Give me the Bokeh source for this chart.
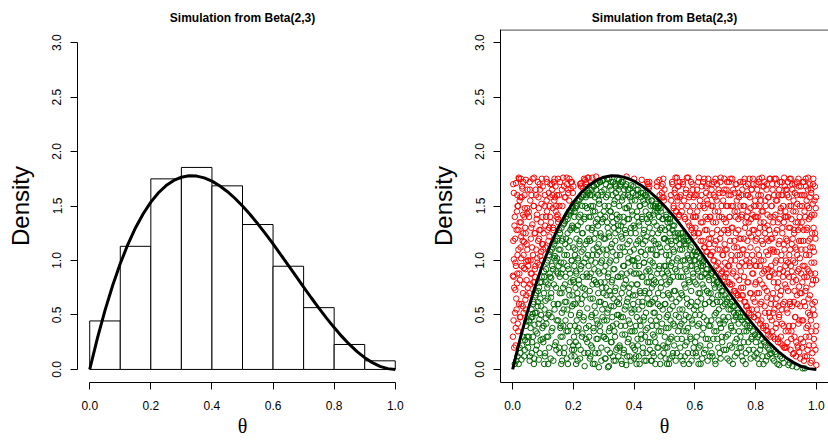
from bokeh.plotting import figure
from bokeh.layouts import row
from bokeh.models import Range1d, FixedTicker, PrintfTickFormatter, Span
from bokeh.embed import file_html
from bokeh.resources import INLINE

TITLE = "Simulation from Beta(2,3)"
X_LABEL = "θ"
Y_LABEL = "Density"
x_ticks = [0.0, 0.2, 0.4, 0.6, 0.8, 1.0]
y_ticks = [0.0, 0.5, 1.0, 1.5, 2.0, 2.5, 3.0]

# histogram (left panel)
bin_left = [0.0, 0.1, 0.2, 0.3, 0.4, 0.5, 0.6, 0.7, 0.8, 0.9]
bin_right = [0.1, 0.2, 0.3, 0.4, 0.5, 0.6, 0.7, 0.8, 0.9, 1.0]
bin_density = [0.445, 1.13, 1.749, 1.854, 1.685, 1.33, 0.947, 0.567, 0.229, 0.079]

# Beta(2,3) density curve, read at steps of 0.025
curve_x = [0.0, 0.025, 0.05, 0.075, 0.1, 0.125, 0.15, 0.175, 0.2, 0.225, 0.25,
           0.275, 0.3, 0.325, 0.35, 0.375, 0.4, 0.425, 0.45, 0.475, 0.5,
           0.525, 0.55, 0.575, 0.6, 0.625, 0.65, 0.675, 0.7, 0.725, 0.75,
           0.775, 0.8, 0.825, 0.85, 0.875, 0.9, 0.925, 0.95, 0.975, 1.0]
curve_y = [0.0, 0.2852, 0.5415, 0.7701, 0.972, 1.1484, 1.3005, 1.4293, 1.536, 1.6217, 1.6875,
           1.7346, 1.764, 1.7769, 1.7745, 1.7578, 1.728, 1.6862, 1.6335, 1.5711, 1.5,
           1.4214, 1.3365, 1.2463, 1.152, 1.0547, 0.9555, 0.8556, 0.756, 0.6579, 0.5625,
           0.4708, 0.384, 0.3032, 0.2295, 0.1641, 0.108, 0.0624, 0.0285, 0.0073, 0.0]

# accepted draws (green), x in thousandths, y in hundredths -- first batch
green_x_milli = [
    12, 25, 31, 38, 44, 47, 20, 41,
    53, 57, 61, 64, 68, 70, 72, 75, 77, 79, 81, 84, 86, 88, 90, 92, 94, 96, 98, 55, 66, 83,
    102, 104, 106, 108, 110, 112, 114, 116, 118, 120, 122, 124, 126, 128, 130, 132, 134, 136, 138, 140, 142, 144, 146, 148, 103, 109, 117, 127, 139, 147,
    151, 152, 153, 155, 156, 158, 159, 160, 161, 163, 164, 165, 167, 168, 169, 170, 172, 173, 174, 176, 177, 178, 180, 181, 182, 184, 185, 186, 188, 189, 190, 192, 193, 194, 195, 196, 197, 198, 199, 157,
    201, 202, 203, 204, 205, 206, 207, 208, 209, 210, 211, 212, 213, 214, 215, 216, 217, 218, 219, 220, 221, 223, 224, 226, 227, 228, 229, 230, 231, 232, 233, 234, 236, 237, 238, 239, 240, 241, 243, 244, 245, 246, 247, 248, 249,
    251, 252, 253, 254, 255, 256, 257, 258, 259, 260, 261, 262, 263, 264, 265, 266, 267, 268, 269, 270, 271, 272, 273, 274, 276, 277, 278, 279, 280, 281, 282, 283, 284, 285, 286, 287, 288, 289, 290, 291, 292, 293, 294, 295, 296, 297, 298, 299, 300,
    301, 302, 303, 304, 305, 306, 307, 308, 309, 310, 311, 312, 313, 314, 315, 316, 317, 318, 319, 320, 321, 322, 323, 324, 325, 326, 327, 328, 329, 330, 331, 332, 333, 334, 335, 336, 337, 338, 339, 340, 341, 342, 343, 344, 345, 346, 347, 348, 349, 350,
    351, 352, 353, 354, 355, 356, 357, 358, 359, 360, 361, 362, 363, 364, 365, 366, 367, 368, 369, 370, 371, 372, 373, 374, 376, 377, 378, 379, 380, 381, 382, 383, 384, 385, 386, 387, 388, 389, 390, 391, 392, 393, 394, 395, 396, 397, 398, 399, 400,
    401, 402, 403, 404, 405, 406, 407, 408, 409, 410, 411, 412, 413, 414, 415, 416, 417, 418, 419, 420, 421, 422, 423, 424, 426, 427, 428, 429, 430, 431, 432, 433, 434, 435, 436, 437, 438, 439, 440, 441, 442, 444, 445, 446, 447, 448, 449,
    451, 452, 453, 454, 455, 456, 457, 458, 459, 460, 461, 462, 463, 464, 465, 466, 467, 468, 469, 470, 471, 472, 473, 474, 476, 477, 478, 479, 480, 481, 482, 484, 485, 486, 487, 488, 489, 490, 492, 493, 495, 496, 498, 499,
    501, 502, 503, 504, 505, 506, 507, 508, 509, 510, 511, 512, 513, 514, 515, 516, 517, 518, 519, 520, 522, 523, 524, 526, 527, 528, 529, 531, 532, 533, 535, 536, 537, 539, 540, 542, 544, 545, 547, 549,
    551, 552, 553, 554, 555, 557, 558, 559, 560, 562, 563, 564, 565, 567, 568, 569, 571, 572, 573, 575, 576, 577, 579, 580, 582, 583, 585, 586, 588, 589, 591, 592, 594, 596, 598,
    601, 602, 603, 605, 606, 608, 609, 611, 612, 614, 615, 617, 618, 620, 621, 623, 624, 626, 628, 629, 631, 633, 635, 637, 639, 641, 643, 645, 647, 649,
    651, 653, 655, 657, 659, 661, 663, 665, 667, 669, 671, 673, 675, 677, 679, 681, 683, 685, 687, 689, 691, 694, 696, 699,
    702, 705, 707, 710, 713, 715, 718, 720, 723, 725, 728, 730, 733, 736, 739, 742, 745, 748,
    752, 755, 758, 762, 765, 768, 772, 776, 780, 784, 788, 793, 798,
    803, 808, 812, 818, 823, 828, 834, 840, 846,
    856, 864, 872, 881, 892,
    908, 921,
    962,
]
green_y_centi = [
    8, 15, 22, 12, 40, 30, 5, 27,
    30, 12, 48, 25, 60, 5, 41, 68, 18, 52, 33, 72, 9, 46, 80, 27, 58, 85, 38, 44, 51, 62,
    40, 85, 12, 63, 92, 30, 75, 100, 50, 20, 88, 108, 66, 35, 95, 112, 8, 78, 55, 118, 25, 90, 102, 60, 70, 47, 5, 84, 104, 120,
    60, 110, 20, 85, 125, 40, 98, 5, 70, 118, 30, 92, 133, 55, 15, 105, 78, 136, 45, 120, 62, 10, 95, 138, 35, 112, 73, 142, 25, 88, 128, 50, 145, 100, 18, 132, 68, 148, 82, 38,
    80, 30, 140, 12, 105, 60, 148, 25, 90, 120, 45, 150, 70, 8, 132, 100, 38, 155, 78, 115, 52, 142, 18, 95, 158, 65, 125, 33, 85, 160, 110, 48, 138, 3, 74, 150, 102, 28, 160, 88, 118, 56, 164, 15, 130,
    40, 120, 85, 10, 160, 65, 140, 22, 100, 165, 50, 130, 78, 5, 150, 110, 35, 168, 92, 58, 145, 15, 125, 80, 170, 45, 105, 138, 28, 160, 70, 115, 2, 152, 88, 40, 172, 125, 62, 98, 20, 163, 135, 75, 48, 110, 174, 30, 145,
    90, 30, 150, 60, 120, 10, 170, 75, 105, 45, 135, 18, 160, 85, 55, 125, 3, 175, 98, 38, 145, 68, 112, 25, 165, 80, 140, 48, 108, 12, 172, 92, 58, 130, 35, 155, 72, 118, 8, 168, 100, 42, 138, 62, 20, 158, 85, 128, 50, 174,
    65, 140, 20, 105, 170, 48, 122, 8, 88, 155, 32, 112, 172, 75, 135, 15, 95, 160, 55, 128, 40, 168, 82, 4, 148, 62, 115, 25, 165, 98, 45, 138, 70, 12, 158, 108, 35, 125, 169, 78, 52, 145, 22, 100, 162, 60, 132, 88, 10,
    55, 130, 18, 95, 160, 40, 115, 5, 78, 145, 28, 102, 165, 62, 135, 12, 88, 150, 45, 120, 70, 158, 32, 108, 140, 58, 85, 20, 162, 125, 48, 98, 8, 152, 72, 118, 36, 160, 90, 15, 138, 65, 110, 25, 155, 80, 142,
    90, 25, 140, 60, 110, 8, 155, 75, 40, 125, 98, 15, 150, 52, 118, 82, 30, 145, 65, 5, 105, 152, 45, 132, 88, 20, 148, 70, 115, 35, 150, 95, 58, 128, 12, 145, 80, 108, 42, 138, 68, 22, 120, 95,
    60, 120, 20, 95, 140, 38, 78, 5, 112, 135, 50, 88, 25, 130, 68, 105, 10, 138, 82, 45, 118, 30, 98, 128, 58, 15, 110, 72, 132, 40, 92, 122, 8, 62, 100, 28, 125, 85, 48, 115,
    40, 95, 12, 120, 70, 28, 110, 55, 125, 85, 5, 118, 45, 100, 22, 75, 115, 35, 90, 60, 118, 15, 102, 48, 80, 110, 30, 95, 62, 8, 105, 42, 88, 20, 100,
    50, 100, 15, 78, 30, 108, 62, 90, 5, 42, 102, 70, 22, 95, 55, 85, 10, 98, 38, 75, 100, 60, 18, 88, 45, 92, 28, 70, 82, 12,
    40, 88, 15, 65, 90, 28, 78, 50, 8, 85, 35, 62, 80, 20, 55, 75, 42, 10, 68, 30, 72, 48, 18, 60,
    30, 65, 10, 48, 66, 22, 55, 38, 62, 5, 45, 58, 25, 50, 15, 52, 35, 48,
    20, 45, 8, 35, 48, 15, 40, 25, 38, 10, 30, 18, 32,
    15, 30, 5, 22, 12, 25, 8, 20, 14,
    10, 16, 5, 12, 6,
    4, 3,
    1,
]

# accepted draws (green) -- second batch
green_x_milli_b = [
    7, 16, 23, 29, 34, 40, 45, 49,
    51, 54, 56, 59, 62, 63, 65, 67, 69, 71, 74, 76, 78, 80, 82, 85, 87, 89, 91, 93, 95, 99,
    101, 103, 105, 107, 109, 111, 113, 115, 117, 119, 121, 123, 125, 127, 129, 131, 133, 135, 137, 139, 141, 143, 145, 147, 149, 104, 116, 128, 136, 144,
    150, 151, 153, 154, 155, 157, 158, 160, 161, 162, 163, 165, 166, 167, 168, 170, 171, 172, 173, 175, 176, 177, 179, 180, 181, 182, 184, 185, 187, 188, 189, 190, 191, 193, 194, 195, 196, 197, 199, 200,
    200, 201, 202, 203, 204, 205, 206, 207, 208, 209, 210, 211, 212, 213, 214, 215, 216, 217, 218, 219, 220, 221, 222, 223, 224, 226, 227, 228, 229, 230, 231, 233, 234, 235, 236, 237, 238, 240, 241, 242, 244, 245, 246, 248, 250,
    250, 251, 252, 253, 254, 255, 256, 257, 258, 259, 260, 261, 262, 263, 264, 265, 266, 267, 268, 269, 270, 271, 272, 273, 274, 275, 276, 277, 278, 279, 280, 281, 282, 283, 284, 285, 286, 287, 288, 289, 290, 291, 292, 293, 294, 295, 296, 297, 299,
    300, 301, 302, 303, 304, 305, 306, 307, 308, 309, 310, 311, 312, 313, 314, 315, 316, 317, 318, 319, 320, 321, 322, 323, 324, 325, 326, 327, 328, 329, 330, 331, 332, 333, 334, 335, 336, 337, 338, 339, 340, 341, 342, 343, 344, 345, 346, 347, 348, 349,
    350, 351, 352, 353, 354, 355, 356, 357, 358, 359, 360, 361, 362, 363, 364, 365, 366, 367, 368, 369, 370, 371, 372, 373, 374, 376, 377, 378, 379, 380, 381, 382, 383, 384, 385, 386, 387, 388, 389, 390, 391, 392, 393, 394, 395, 396, 397, 398, 399,
    401, 402, 403, 404, 405, 406, 407, 408, 409, 410, 411, 412, 413, 414, 415, 416, 417, 418, 419, 420, 421, 422, 423, 424, 425, 426, 427, 428, 429, 430, 431, 432, 433, 434, 435, 436, 437, 438, 439, 440, 441, 442, 443, 444, 446, 447, 449,
    450, 451, 452, 453, 454, 455, 456, 457, 458, 459, 460, 461, 462, 463, 464, 465, 466, 467, 468, 469, 470, 471, 472, 473, 474, 475, 477, 478, 479, 480, 481, 482, 483, 485, 486, 487, 488, 489, 491, 492, 494, 495, 497, 499,
    500, 501, 502, 503, 504, 505, 506, 507, 508, 509, 510, 511, 512, 513, 514, 515, 516, 517, 518, 519, 520, 521, 523, 524, 525, 527, 528, 529, 531, 532, 534, 535, 537, 538, 540, 541, 543, 545, 546, 549,
    550, 551, 552, 554, 555, 556, 558, 559, 561, 562, 563, 565, 566, 567, 569, 570, 572, 573, 574, 576, 577, 579, 580, 581, 583, 584, 586, 587, 588, 590, 591, 593, 595, 597, 599,
    600, 601, 603, 604, 606, 607, 609, 610, 612, 613, 615, 616, 618, 619, 621, 622, 624, 625, 627, 629, 630, 632, 634, 636, 638, 640, 642, 644, 646, 648,
    650, 652, 654, 656, 658, 660, 662, 664, 666, 668, 670, 672, 674, 676, 678, 680, 682, 684, 686, 688, 690, 692, 695, 698,
    700, 703, 706, 709, 711, 714, 717, 719, 722, 724, 727, 729, 732, 735, 738, 741, 744, 747,
    750, 754, 757, 761, 764, 767, 770, 774, 778, 782, 786, 791, 796,
    801, 806, 810, 815, 821, 826, 832, 838, 845,
    852, 861, 869, 878, 887,
    912, 935,
    955,
]
green_y_centi_b = [
    5, 12, 20, 9, 30, 18, 44, 25,
    20, 45, 8, 38, 55, 15, 48, 30, 62, 10, 52, 35, 70, 22, 58, 42, 75, 15, 65, 50, 80, 28,
    25, 90, 55, 15, 80, 42, 98, 65, 30, 105, 52, 85, 10, 70, 110, 38, 92, 60, 115, 22, 100, 75, 45, 118, 88, 5, 78, 48, 102, 18,
    45, 95, 128, 15, 70, 110, 30, 88, 130, 52, 8, 120, 75, 40, 98, 134, 20, 62, 115, 85, 140, 35, 105, 55, 125, 5, 92, 145, 68, 118, 40, 144, 80, 12, 130, 100, 58, 150, 22, 112,
    60, 130, 18, 95, 145, 40, 110, 75, 150, 5, 88, 128, 35, 155, 65, 102, 22, 140, 82, 50, 118, 156, 10, 92, 135, 60, 108, 30, 150, 75, 125, 45, 160, 98, 15, 140, 68, 115, 158, 38, 85, 148, 25, 105, 162,
    95, 140, 30, 165, 72, 118, 12, 88, 150, 48, 128, 160, 20, 105, 65, 145, 38, 168, 82, 120, 5, 158, 98, 52, 135, 165, 28, 112, 78, 170, 42, 132, 90, 15, 155, 62, 108, 172, 35, 142, 80, 122, 8, 160, 100, 55, 173, 138, 70,
    120, 45, 165, 80, 10, 140, 95, 28, 158, 68, 110, 175, 52, 130, 2, 88, 150, 35, 122, 72, 168, 15, 100, 145, 58, 172, 25, 115, 82, 160, 40, 135, 65, 8, 152, 92, 170, 30, 125, 75, 162, 18, 105, 142, 50, 175, 85, 132, 12, 165,
    60, 150, 22, 112, 168, 85, 40, 132, 172, 70, 5, 120, 158, 48, 95, 140, 18, 165, 78, 108, 32, 148, 58, 125, 170, 88, 12, 138, 65, 160, 102, 28, 150, 75, 118, 42, 166, 90, 8, 130, 55, 155, 100, 35, 142, 68, 168, 20, 110,
    100, 35, 155, 68, 125, 12, 88, 165, 48, 140, 78, 22, 118, 160, 55, 95, 132, 5, 72, 150, 40, 108, 162, 28, 85, 138, 62, 15, 115, 155, 45, 98, 128, 70, 160, 30, 105, 145, 52, 8, 122, 80, 158, 38, 135, 92, 60,
    70, 130, 18, 100, 150, 45, 85, 120, 8, 155, 62, 110, 32, 142, 78, 12, 135, 95, 52, 150, 25, 115, 80, 148, 40, 105, 145, 60, 125, 20, 92, 140, 48, 112, 5, 148, 75, 35, 130, 88, 55, 138, 15, 120,
    85, 30, 128, 60, 10, 105, 142, 48, 90, 20, 118, 70, 138, 38, 100, 5, 80, 125, 55, 135, 28, 95, 65, 115, 12, 132, 85, 42, 108, 22, 125, 72, 50, 118, 90, 15, 102, 35, 120, 65,
    55, 110, 20, 85, 125, 42, 68, 8, 100, 122, 35, 78, 115, 12, 92, 50, 120, 25, 65, 105, 38, 82, 118, 5, 58, 100, 28, 112, 72, 45, 95, 15, 85, 55, 108,
    80, 25, 105, 58, 12, 92, 40, 108, 70, 20, 98, 50, 85, 5, 65, 100, 32, 78, 95, 48, 15, 88, 60, 28, 92, 72, 8, 85, 40, 62,
    22, 70, 45, 88, 12, 60, 82, 35, 75, 5, 52, 80, 28, 68, 45, 78, 15, 62, 38, 72, 25, 58, 42, 68,
    45, 18, 62, 32, 55, 8, 60, 40, 20, 58, 35, 52, 12, 48, 28, 55, 42, 20,
    30, 12, 48, 25, 42, 5, 35, 45, 18, 40, 28, 35, 12,
    25, 10, 32, 18, 28, 5, 22, 12, 18,
    15, 8, 14, 4, 10,
    6, 2,
    1,
]

# rejected draws (red), x in thousandths, y in hundredths -- first batch
red_x_milli = [
    3, 8, 15, 22, 27, 35, 42, 48, 5, 11, 18, 29, 33, 39, 46, 2, 9, 16, 24, 30, 37, 43, 49, 6, 13, 21, 28, 34, 40, 45, 1, 10, 19, 26, 32, 36, 47, 4, 14, 23, 38, 50,
    51, 54, 56, 58, 60, 62, 63, 65, 67, 69, 71, 73, 74, 76, 78, 80, 82, 85, 87, 89, 91, 93, 95, 97, 99, 59, 72, 88,
    101, 105, 111, 115, 119, 123, 129, 133, 137, 141, 145, 149, 107, 113, 121, 131, 135, 143, 125, 150,
    154, 162, 166, 171, 179, 183, 187, 191, 195, 200,
    222, 235, 242, 225, 250,
    275,
    375,
    425, 443, 450,
    475, 483, 491, 494, 497, 500,
    521, 525, 530, 534, 538, 541, 543, 546, 548, 550,
    556, 561, 566, 570, 574, 578, 581, 584, 587, 590, 593, 595, 597, 599, 600,
    604, 607, 610, 613, 616, 619, 622, 625, 627, 630, 632, 634, 636, 638, 640, 642, 644, 646, 648, 650,
    652, 654, 656, 658, 660, 662, 664, 666, 668, 670, 672, 674, 676, 678, 680, 682, 684, 686, 688, 690, 692, 693, 695, 697, 698, 700,
    701, 703, 704, 706, 708, 709, 711, 712, 714, 716, 717, 719, 721, 722, 724, 726, 727, 729, 731, 732, 734, 735, 737, 738, 740, 741, 743, 744, 746, 747, 749, 750,
    751, 753, 754, 756, 757, 759, 760, 761, 763, 764, 766, 767, 769, 770, 771, 773, 774, 775, 777, 778, 779, 781, 782, 783, 785, 786, 787, 789, 790, 791, 792, 794, 795, 796, 797, 799, 800,
    801, 802, 804, 805, 806, 807, 809, 810, 811, 813, 814, 815, 816, 817, 819, 820, 821, 822, 824, 825, 826, 827, 829, 830, 831, 832, 833, 835, 836, 837, 838, 839, 841, 842, 843, 844, 845, 847, 848, 849, 850,
    851, 852, 853, 854, 855, 857, 858, 859, 860, 861, 862, 863, 865, 866, 867, 868, 869, 870, 871, 873, 874, 876, 877, 878, 879, 880, 882, 883, 884, 885, 886, 887, 888, 889, 890, 891, 893, 894, 895, 896, 897, 898, 899, 900, 875,
    901, 902, 903, 904, 905, 906, 907, 909, 910, 911, 912, 913, 914, 915, 916, 917, 918, 919, 920, 922, 923, 924, 926, 927, 928, 929, 930, 931, 932, 933, 934, 935, 936, 937, 938, 939, 940, 941, 942, 943, 944, 945, 946, 947, 948, 949, 950, 925,
    951, 952, 953, 954, 955, 956, 957, 958, 959, 960, 961, 963, 964, 965, 966, 967, 968, 969, 970, 971, 972, 973, 974, 975, 976, 977, 978, 979, 980, 981, 982, 983, 984, 985, 986, 987, 988, 989, 990, 991, 992, 993, 994, 995, 996, 997, 998, 999, 1000,
]
red_y_centi = [
    45, 120, 160, 88, 135, 172, 64, 110, 20, 95, 150, 60, 118, 140, 82, 170, 73, 105, 48, 158, 93, 125, 165, 132, 55, 175, 102, 70, 148, 99, 86, 38, 128, 112, 166, 52, 143, 101, 79, 155, 117, 75,
    95, 140, 172, 78, 120, 160, 88, 133, 105, 150, 176, 92, 125, 165, 110, 142, 98, 158, 120, 170, 104, 135, 152, 115, 168, 100, 80, 128,
    110, 150, 175, 128, 162, 140, 170, 130, 155, 168, 140, 175, 132, 145, 122, 160, 172, 150, 158, 138,
    150, 165, 176, 158, 170, 162, 175, 166, 172, 168,
    170, 175, 172, 168, 176,
    177,
    177,
    174, 172, 168,
    168, 174, 162, 170, 158, 165,
    160, 172, 150, 165, 145, 176, 155, 168, 142, 158,
    150, 170, 140, 162, 176, 135, 158, 145, 172, 130, 165, 150, 125, 160, 140,
    140, 165, 125, 176, 150, 118, 160, 135, 172, 112, 148, 128, 168, 108, 155, 138, 175, 120, 160, 105,
    120, 150, 170, 108, 135, 160, 100, 145, 175, 118, 155, 128, 98, 165, 140, 110, 172, 125, 150, 90, 162, 105, 138, 175, 115, 85,
    110, 150, 88, 172, 128, 95, 160, 80, 140, 118, 175, 100, 150, 78, 130, 165, 90, 112, 145, 72, 170, 125, 85, 155, 105, 68, 138, 162, 95, 120, 65, 150,
    90, 140, 68, 165, 110, 75, 150, 120, 62, 175, 95, 135, 58, 160, 105, 80, 145, 170, 55, 125, 98, 158, 70, 112, 138, 50, 165, 88, 128, 175, 65, 150, 100, 48, 140, 78, 118,
    80, 140, 55, 165, 110, 45, 125, 172, 70, 150, 95, 42, 135, 160, 62, 118, 176, 88, 145, 40, 100, 168, 75, 130, 52, 155, 92, 36, 120, 170, 66, 142, 105, 32, 158, 85, 128, 48, 175, 110, 60,
    95, 150, 45, 120, 170, 70, 135, 30, 108, 160, 55, 88, 142, 38, 175, 100, 65, 128, 155, 28, 80, 115, 165, 50, 138, 92, 24, 148, 72, 105, 172, 42, 125, 160, 60, 90, 135, 20, 110, 168, 78, 145, 35, 100, 58,
    120, 55, 165, 88, 25, 140, 72, 158, 40, 105, 175, 60, 130, 18, 95, 150, 35, 115, 170, 80, 14, 145, 62, 125, 30, 162, 98, 48, 135, 12, 110, 172, 68, 152, 22, 90, 128, 42, 168, 76, 16, 140, 102, 58, 160, 28, 118, 85,
    70, 135, 20, 160, 95, 45, 118, 172, 8, 85, 145, 58, 110, 30, 168, 75, 128, 12, 150, 92, 40, 176, 65, 138, 22, 105, 158, 50, 120, 6, 88, 165, 35, 142, 78, 15, 112, 170, 55, 130, 28, 98, 155, 62, 125, 18, 148, 82, 40,
]

# rejected draws (red) -- second batch
red_x_milli_b = [
    1, 2, 4, 5, 7, 8, 9, 11, 12, 13, 15, 16, 17, 19, 20, 21, 23, 24, 25, 26, 28, 30, 31, 33, 34, 36, 37, 39, 41, 42, 44, 45, 46, 48, 50, 3, 10, 14, 18, 27, 35, 43,
    52, 53, 55, 57, 60, 61, 64, 66, 68, 70, 72, 75, 77, 79, 81, 83, 84, 86, 88, 90, 92, 94, 96, 98, 100, 58, 73, 97,
    102, 106, 110, 114, 118, 122, 126, 130, 134, 138, 142, 146, 150, 108, 112, 120, 124, 132, 140, 148,
    152, 156, 164, 169, 174, 178, 183, 186, 192, 198,
    225, 232, 239, 243, 247,
    262,
    400,
    445, 448, 450,
    476, 484, 490, 493, 496, 498,
    522, 526, 530, 533, 536, 539, 542, 544, 547, 550,
    553, 557, 560, 564, 568, 571, 575, 578, 582, 585, 589, 592, 594, 596, 598,
    602, 605, 608, 611, 614, 617, 620, 623, 626, 628, 631, 633, 635, 637, 639, 641, 643, 645, 647, 649,
    651, 653, 655, 657, 659, 661, 663, 665, 667, 669, 671, 673, 675, 677, 679, 681, 683, 685, 687, 689, 691, 693, 694, 696, 697, 699,
    701, 702, 704, 705, 707, 708, 710, 712, 713, 715, 716, 718, 720, 721, 723, 725, 726, 728, 730, 731, 733, 734, 736, 737, 739, 740, 742, 743, 745, 746, 748, 749,
    751, 752, 753, 755, 756, 758, 759, 760, 762, 763, 765, 766, 768, 769, 771, 772, 773, 775, 776, 777, 779, 780, 781, 783, 784, 785, 787, 788, 789, 790, 792, 793, 794, 795, 797, 798, 799,
    800, 802, 803, 804, 805, 807, 808, 809, 811, 812, 813, 814, 816, 817, 818, 819, 820, 822, 823, 824, 825, 827, 828, 829, 830, 831, 833, 834, 835, 836, 837, 839, 840, 841, 842, 843, 844, 846, 847, 848, 849,
    850, 851, 853, 854, 855, 856, 857, 858, 859, 860, 862, 863, 864, 865, 866, 867, 868, 870, 871, 872, 873, 874, 875, 876, 877, 879, 880, 881, 882, 883, 884, 885, 886, 888, 889, 890, 891, 892, 893, 894, 895, 896, 897, 898, 899,
    900, 901, 902, 903, 904, 905, 906, 907, 908, 909, 910, 911, 913, 914, 916, 917, 918, 919, 920, 921, 922, 923, 924, 925, 926, 927, 928, 929, 930, 931, 932, 933, 934, 936, 937, 938, 939, 940, 941, 942, 943, 944, 945, 946, 947, 948, 949, 950,
    951, 952, 953, 954, 956, 957, 958, 959, 960, 961, 962, 963, 964, 965, 966, 967, 968, 969, 970, 971, 972, 973, 974, 975, 976, 977, 978, 979, 980, 981, 982, 983, 984, 985, 986, 987, 988, 989, 990, 991, 992, 993, 994, 995, 996, 997, 998, 999, 1000,
]
red_y_centi_b = [
    30, 118, 162, 75, 140, 52, 98, 171, 65, 128, 88, 150, 42, 110, 176, 60, 135, 82, 158, 48, 122, 95, 168, 58, 142, 105, 78, 160, 130, 92, 174, 68, 115, 148, 100, 85, 22, 145, 35, 175, 125, 55,
    100, 145, 70, 165, 88, 130, 112, 175, 80, 150, 125, 95, 160, 138, 102, 172, 118, 148, 96, 165, 128, 108, 175, 140, 115, 155, 85, 100,
    125, 160, 140, 172, 118, 150, 135, 165, 128, 175, 145, 160, 135, 112, 155, 130, 170, 148, 158, 142,
    160, 172, 150, 168, 158, 176, 165, 155, 172, 162,
    171, 166, 174, 170, 176,
    176,
    175,
    170, 166, 172,
    172, 160, 168, 158, 175, 155,
    155, 170, 148, 162, 176, 145, 158, 168, 140, 172,
    160, 145, 172, 155, 138, 165, 150, 176, 132, 160, 128, 170, 140, 158, 122,
    130, 160, 145, 172, 125, 155, 135, 168, 118, 150, 175, 112, 140, 162, 128, 108, 152, 170, 115, 140,
    140, 105, 165, 125, 150, 100, 172, 115, 158, 135, 95, 170, 110, 145, 92, 162, 120, 176, 88, 140, 105, 155, 85, 128, 165, 98,
    92, 135, 165, 110, 80, 150, 125, 172, 95, 140, 78, 160, 105, 130, 175, 88, 150, 72, 118, 162, 100, 140, 70, 170, 112, 145, 68, 128, 158, 82, 105, 172,
    120, 75, 160, 98, 142, 68, 172, 110, 85, 150, 130, 62, 168, 100, 140, 58, 118, 160, 80, 135, 52, 175, 95, 148, 70, 122, 165, 55, 105, 142, 88, 170, 48, 128, 62, 155, 95,
    150, 95, 170, 120, 70, 140, 50, 160, 105, 175, 82, 130, 60, 155, 100, 45, 145, 78, 168, 115, 38, 135, 90, 172, 58, 125, 150, 40, 108, 165, 72, 132, 35, 158, 92, 118, 52, 175, 85, 140, 30,
    120, 65, 150, 90, 35, 165, 110, 52, 140, 80, 175, 28, 125, 98, 60, 155, 42, 108, 170, 75, 135, 25, 160, 88, 48, 118, 172, 68, 145, 30, 100, 160, 55, 130, 22, 85, 150, 40, 115, 176, 62, 140, 20, 95, 165,
    140, 75, 20, 118, 160, 52, 98, 172, 35, 130, 85, 150, 62, 110, 175, 28, 138, 90, 58, 165, 120, 40, 100, 155, 15, 128, 72, 170, 48, 112, 145, 82, 25, 160, 105, 60, 135, 20, 175, 92, 118, 45, 150, 70, 10, 130, 168, 88,
    110, 45, 150, 80, 172, 25, 128, 62, 160, 95, 12, 140, 72, 175, 105, 38, 155, 85, 130, 18, 165, 52, 118, 90, 148, 30, 170, 68, 112, 140, 45, 162, 98, 8, 125, 60, 152, 82, 175, 22, 108, 142, 50, 168, 88, 120, 35, 158, 4,
]

assert len(green_x_milli) == len(green_y_centi), (len(green_x_milli), len(green_y_centi))
assert len(green_x_milli_b) == len(green_y_centi_b), (len(green_x_milli_b), len(green_y_centi_b))
assert len(red_x_milli) == len(red_y_centi), (len(red_x_milli), len(red_y_centi))
assert len(red_x_milli_b) == len(red_y_centi_b), (len(red_x_milli_b), len(red_y_centi_b))

green_x = [v / 1000 for v in green_x_milli + green_x_milli_b]
green_y = [v / 100 for v in green_y_centi + green_y_centi_b]
red_x = [v / 1000 for v in red_x_milli + red_x_milli_b]
red_y = [v / 100 for v in red_y_centi + red_y_centi_b]

FONT = "Liberation Sans"


def style(p, x_bounds=None, y_bounds=None):
    p.title.text = TITLE
    p.title.text_font = FONT
    p.title.text_font_size = "12px"
    p.title.text_font_style = "bold"
    p.title.align = "center"
    p.title.standoff = 10
    p.title.text_color = "black"
    p.xgrid.visible = False
    p.ygrid.visible = False
    p.background_fill_color = "white"
    p.border_fill_color = "white"
    p.outline_line_color = None
    for ax in (p.xaxis[0], p.yaxis[0]):
        ax.minor_tick_line_color = None
        ax.major_tick_out = 7
        ax.major_tick_in = 0
        ax.major_tick_line_color = "black"
        ax.axis_line_color = "black"
        ax.major_label_text_font = FONT
        ax.major_label_text_font_size = "12px"
        ax.major_label_text_color = "black"
        ax.axis_label_text_font_style = "normal"
        ax.axis_label_text_color = "black"
        ax.formatter = PrintfTickFormatter(format="%.1f")
    p.xaxis[0].ticker = FixedTicker(ticks=x_ticks)
    p.yaxis[0].ticker = FixedTicker(ticks=y_ticks)
    p.xaxis[0].axis_label = X_LABEL
    p.xaxis[0].axis_label_text_font = "Liberation Serif"
    p.xaxis[0].axis_label_text_font_size = "20px"
    p.xaxis[0].axis_label_standoff = 2
    p.xaxis[0].major_label_standoff = 11
    p.yaxis[0].axis_label = Y_LABEL
    p.yaxis[0].axis_label_text_font = FONT
    p.yaxis[0].axis_label_text_font_size = "24px"
    p.yaxis[0].axis_label_standoff = 16
    p.yaxis[0].major_label_standoff = 9
    p.yaxis[0].major_label_orientation = "vertical"
    if x_bounds is not None:
        p.xaxis[0].bounds = x_bounds
    if y_bounds is not None:
        p.yaxis[0].bounds = y_bounds


# left panel: histogram + density
p1 = figure(width=414, height=441, x_range=Range1d(-0.04, 1.04), y_range=Range1d(-0.12, 3.12),
            output_backend="svg", toolbar_location=None,
            min_border_left=77, min_border_right=7, min_border_top=29, min_border_bottom=59)
style(p1, x_bounds=(0, 1), y_bounds=(0, 3))
p1.quad(left=bin_left, right=bin_right, bottom=0, top=bin_density,
        fill_color="white", line_color="black", line_width=1)
p1.line(curve_x, curve_y, line_color="black", line_width=3)

# right panel: rejection sampling
p2 = figure(width=414, height=441, x_range=Range1d(-0.04, 1.04), y_range=Range1d(-0.12, 3.12),
            output_backend="svg", toolbar_location=None,
            min_border_left=86, min_border_right=0, min_border_top=29, min_border_bottom=59)
style(p2)
p2.add_layout(Span(location=3.116, dimension="width", line_color="black", line_width=1))
p2.scatter(red_x, red_y, marker="circle", size=5.5, fill_color=None, line_color="red", line_width=1)
p2.scatter(green_x, green_y, marker="circle", size=5.5, fill_color=None, line_color="darkgreen", line_width=1)
p2.line(curve_x, curve_y, line_color="black", line_width=3)

layout = row(p1, p2)
open("out.html", "w").write(file_html(layout, INLINE))
